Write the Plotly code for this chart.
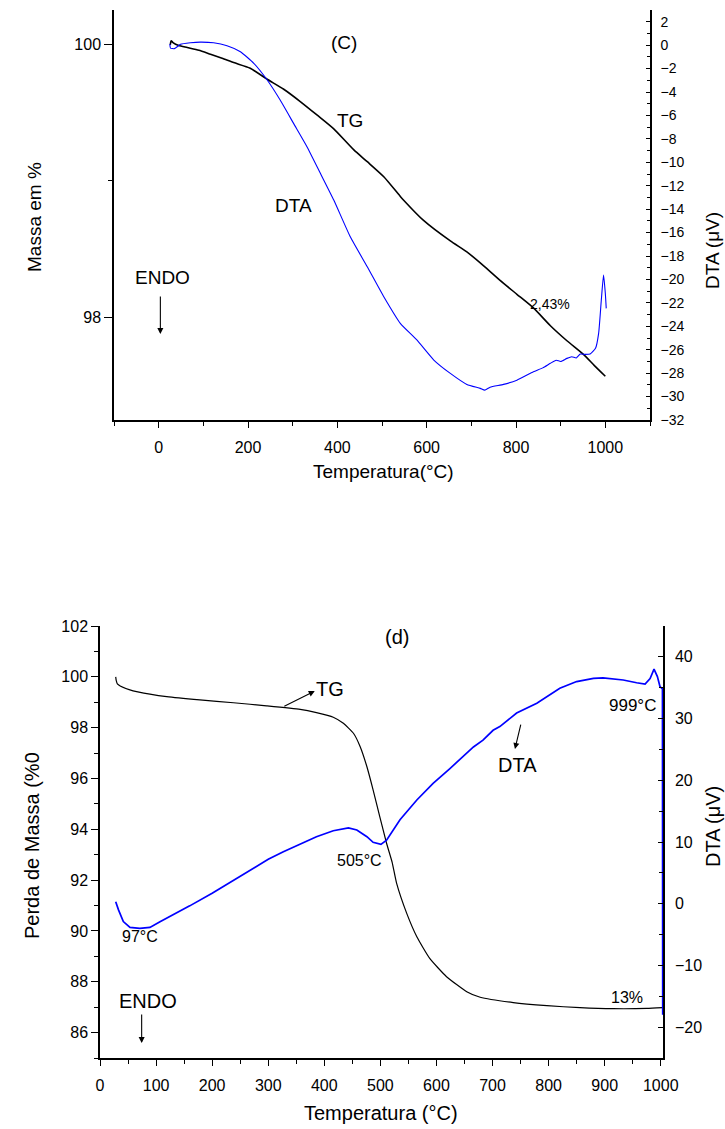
import plotly.graph_objects as go

# ---------------- panel (C) ----------------
tg_c_temp = [26, 28, 32, 45, 64, 90, 116, 142, 168, 205, 243, 280, 317, 355, 392,
             437, 467, 504, 541, 548, 593, 653, 690, 727, 765, 802, 839, 877, 914,
             951, 975, 1000]
tg_c_mass = [99.995, 100.025, 100.012, 99.99, 99.975, 99.955, 99.926, 99.897, 99.865,
             99.824, 99.743, 99.67, 99.58, 99.48, 99.38, 99.226, 99.14, 99.03, 98.886,
             98.86, 98.71, 98.56, 98.48, 98.38, 98.27, 98.17, 98.07, 97.94, 97.83,
             97.73, 97.65, 97.57]

dta_c_temp = [25, 26.5, 35, 42, 49, 71, 93, 123, 153, 183, 213, 243, 272, 302, 332,
              362, 392, 429, 467, 504, 541, 578, 616, 653, 690, 720, 730, 742, 772,
              802, 839, 860, 877, 890, 900, 914, 925, 935, 944, 955, 966, 978, 985,
              991, 996, 1000, 1002]
dta_c_uv = [0.09, -0.25, -0.3, -0.12, 0.07, 0.2, 0.26, 0.2, -0.05, -0.56, -1.55, -2.98,
            -4.69, -6.68, -8.67, -10.94, -13.22, -16.36, -18.92, -21.48, -23.75, -25.17,
            -26.88, -28.02, -28.96, -29.3, -29.45, -29.2, -28.96, -28.6, -27.88, -27.55,
            -27.16, -26.9, -27.0, -26.74, -26.6, -26.7, -26.37, -26.4, -26.37, -25.88,
            -24.6, -21.76, -19.63, -21.2, -22.47]

# ---------------- panel (d) ----------------
tg_d_temp = [28, 29, 31, 36, 59, 89, 119, 178, 238, 297, 357, 386, 416, 434, 452, 464,
             476, 487, 499, 511, 521, 529, 547, 565, 588, 618, 654, 678, 737, 797, 856,
             915, 975, 1003]
tg_d_mass = [100.0, 99.85, 99.72, 99.64, 99.45, 99.32, 99.22, 99.09, 98.98, 98.86,
             98.72, 98.59, 98.41, 98.17, 97.78, 97.25, 96.46, 95.55, 94.49, 93.45, 92.7,
             91.87, 90.69, 89.77, 88.92, 88.2, 87.61, 87.39, 87.18, 87.06, 86.98, 86.94,
             86.95, 86.98]

dta_d_temp = [28, 30, 33, 41.6, 53.5, 71, 89, 107, 130, 160, 200, 250, 300, 327, 357,
              386, 416, 443, 458, 476, 487, 501, 511, 535, 565, 594, 624, 654, 666, 683,
              701, 713, 743, 779, 820, 850, 880, 897, 915, 933, 957, 972, 981, 988, 994,
              998.6, 1003, 1003.5]
dta_d_uv = [0.33, -0.3, -1.0, -2.9, -3.83, -4.0, -3.85, -2.92, -1.85, -0.35, 1.7, 4.45,
            7.2, 8.43, 9.62, 10.86, 11.83, 12.3, 11.94, 10.86, 9.95, 9.62, 10.3, 13.6,
            16.8, 19.5, 21.9, 24.4, 25.4, 26.5, 28.1, 28.7, 30.9, 32.5, 34.9, 36.0, 36.5,
            36.6, 36.4, 36.25, 35.8, 35.6, 36.5, 38.0, 36.8, 35.2, 34.8, -18.0]

W, H = 725, 1129
FONT = "Liberation Sans, Arial, sans-serif"
BLUE = "#0000ff"


def px(xp):
    return xp / W


def py(yp):
    return 1 - yp / H


fig = go.Figure()
fig.add_trace(go.Scatter(x=tg_c_temp, y=tg_c_mass, mode="lines",
                         line=dict(color="black", width=1.6, shape="spline", smoothing=0.6),
                         xaxis="x", yaxis="y"))
fig.add_trace(go.Scatter(x=dta_c_temp, y=dta_c_uv, mode="lines",
                         line=dict(color=BLUE, width=1.1, shape="spline", smoothing=0.5),
                         xaxis="x", yaxis="y2"))
fig.add_trace(go.Scatter(x=tg_d_temp, y=tg_d_mass, mode="lines",
                         line=dict(color="black", width=1.2, shape="spline", smoothing=0.5),
                         xaxis="x2", yaxis="y3"))
fig.add_trace(go.Scatter(x=dta_d_temp, y=dta_d_uv, mode="lines",
                         line=dict(color=BLUE, width=1.7), xaxis="x2", yaxis="y4"))

axis_common = dict(showgrid=False, zeroline=False, showline=True, linecolor="black",
                   linewidth=1.5, tickcolor="black", tickwidth=1.2, automargin=False,
                   tickfont=dict(family=FONT, size=16, color="black"))

fig.update_layout(
    width=W, height=H, margin=dict(l=0, r=0, t=0, b=0),
    paper_bgcolor="white", plot_bgcolor="white", showlegend=False,
    font=dict(family=FONT, color="black"),
    xaxis=dict(domain=[px(114), px(650)], range=[-100, 1100], anchor="y",
               tickmode="linear", tick0=0, dtick=200, ticks="outside", ticklen=6,
               ticklabelstandoff=6,
               minor=dict(dtick=100, tick0=0, ticks="outside", ticklen=4,
                          tickcolor="black", tickwidth=1.2),
               **axis_common),
    yaxis=dict(domain=[py(420), py(10)], range=[97.25, 100.25], anchor="x",
               tickvals=[98, 100], ticks="outside", ticklen=8,
               minor=dict(tickvals=[99], ticks="outside", ticklen=4,
                          tickcolor="black", tickwidth=1.2),
               **axis_common),
    yaxis2=dict(overlaying="y", side="right", anchor="x", range=[-32, 3],
                tickmode="linear", tick0=0, dtick=2, ticks="inside", ticklen=4,
                ticklabelstandoff=6,
                minor=dict(dtick=1, tick0=0, ticks="inside", ticklen=3,
                           tickcolor="black", tickwidth=1.2),
                **{**axis_common, "tickfont": dict(family=FONT, size=14, color="black")}),
    xaxis2=dict(domain=[px(100), px(663)], range=[0, 1004], anchor="y3",
                tickmode="linear", tick0=0, dtick=100, ticks="outside", ticklen=6,
                ticklabelstandoff=6,
                minor=dict(dtick=50, tick0=0, ticks="outside", ticklen=4,
                           tickcolor="black", tickwidth=1.2),
                **axis_common),
    yaxis3=dict(domain=[py(1058), py(626)], range=[85, 102], anchor="x2",
                tickmode="linear", tick0=0, dtick=2, ticks="outside", ticklen=7,
                minor=dict(dtick=1, tick0=0, ticks="outside", ticklen=4,
                           tickcolor="black", tickwidth=1.2),
                **axis_common),
    yaxis4=dict(overlaying="y3", side="right", anchor="x2", range=[-25, 45],
                tickmode="linear", tick0=0, dtick=10, ticks="inside", ticklen=5,
                ticklabelstandoff=7,
                minor=dict(dtick=5, tick0=0, ticks="inside", ticklen=4,
                           tickcolor="black", tickwidth=1.2),
                **axis_common),
)

annotations = []


def paper_text(text, x, y, size, angle=0):
    annotations.append(dict(text=text, x=px(x), y=py(y), xref="paper", yref="paper",
                            showarrow=False, textangle=angle, xanchor="center",
                            yanchor="middle",
                            font=dict(family=FONT, size=size, color="black")))


def data_text(text, x, y, xr, yr, size):
    annotations.append(dict(text=text, x=x, y=y, xref=xr, yref=yr, showarrow=False,
                            xanchor="center", yanchor="middle",
                            font=dict(family=FONT, size=size, color="black")))


def data_arrow(x_head, y_head, x_tail, y_tail, xr, yr):
    annotations.append(dict(text="", x=x_head, y=y_head, ax=x_tail, ay=y_tail,
                            xref=xr, yref=yr, axref=xr, ayref=yr, showarrow=True,
                            arrowhead=2, arrowsize=1.1, arrowwidth=1.1,
                            arrowcolor="black", standoff=0, startstandoff=0))


# axis titles
paper_text("Temperatura(°C)", 383, 472, 19)
paper_text("Massa em %", 35, 217, 19, -90)
paper_text("DTA (μV)", 712, 251, 19, -90)
paper_text("Temperatura (°C)", 381, 1113, 20)
paper_text("Perda de Massa (%0", 32, 846, 20, -90)
paper_text("DTA (μV)", 713, 827, 20, -90)

# panel (C) labels
data_text("(C)", 415, 100.009, "x", "y", 19)
data_text("TG", 429, 99.445, "x", "y", 19)
data_text("DTA", 301.5, 98.823, "x", "y", 19)
data_text("ENDO", 8.3, 98.29, "x", "y", 19)
data_arrow(3.8, 97.879, 3.8, 98.165, "x", "y")
data_text("2,43%", 877, 98.099, "x", "y", 14)

# panel (d) labels
data_text("(d)", 529.6, 101.57, "x2", "y3", 20)
data_text("TG", 410, 99.52, "x2", "y3", 20)
data_arrow(383, 99.44, 326, 98.81, "x2", "y3")
data_text("505°C", 462, 92.79, "x2", "y3", 16)
data_text("97°C", 71, 89.8, "x2", "y3", 16)
data_text("DTA", 745, 96.53, "x2", "y3", 20)
data_arrow(740, 97.16, 751, 98.18, "x2", "y3")
data_text("999°C", 950, 98.89, "x2", "y3", 17)
data_text("13%", 940, 87.40, "x2", "y3", 16)
data_text("ENDO", 85.6, 87.24, "x2", "y3", 20)
data_arrow(74.3, 85.59, 74.3, 86.77, "x2", "y3")

fig.update_layout(annotations=annotations)
fig.write_html("out.html")
